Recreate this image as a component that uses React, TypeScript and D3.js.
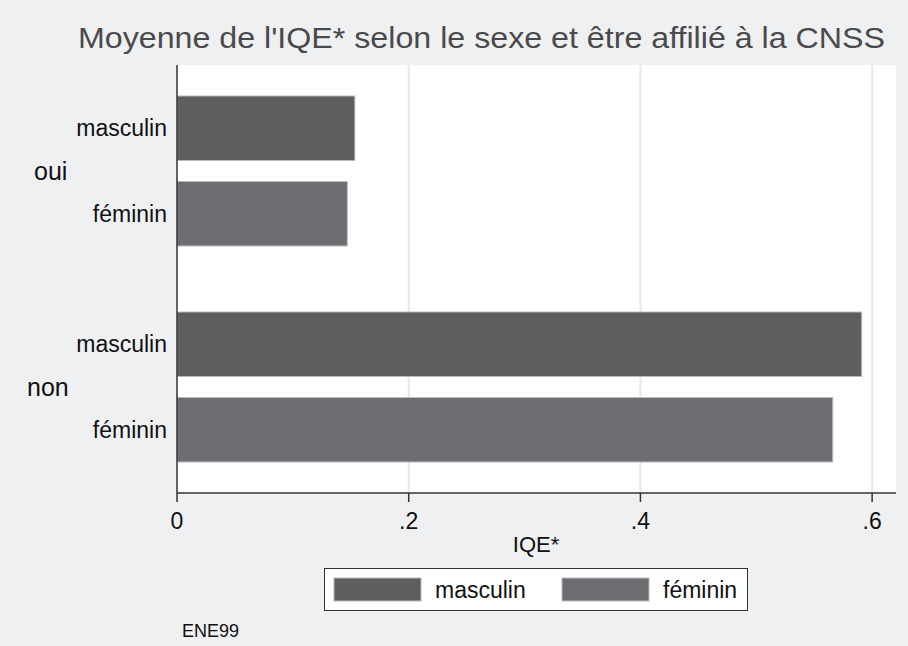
import React from "react";
import * as d3 from "d3";

const groups = ["oui", "non"];
const sexes = ["masculin", "féminin"];
const valuesOui = [0.1535, 0.147];
const valuesNon = [0.591, 0.566];
const xTicks = [0, 0.2, 0.4, 0.6];
const xTickLabels = ["0", ".2", ".4", ".6"];
const title = "Moyenne de l'IQE* selon le sexe et être affilié à la CNSS";
const xTitle = "IQE*";
const note = "ENE99";

const W = 908;
const H = 646;
const FONT = "'Liberation Sans', Arial, Helvetica, sans-serif";
const colors: Record<string, string> = { masculin: "#5e5e60", "féminin": "#6c6d71" };

export default function App() {
  const left = 177;
  const right = 896;
  const top = 65;
  const bottom = 493;
  const x = d3.scaleLinear().domain([0, 0.6206]).range([left, right]);
  const yG = d3.scaleBand().domain(groups).range([top, bottom]).paddingInner(0.3056).paddingOuter(0.1435);
  const yS = d3.scaleBand().domain(sexes).range([0, yG.bandwidth()]).paddingInner(0.2456).paddingOuter(0);
  const data = [
    ...sexes.map((s, i) => ({ g: "oui", s, v: valuesOui[i] })),
    ...sexes.map((s, i) => ({ g: "non", s, v: valuesNon[i] })),
  ];
  return (
    <svg width={W} height={H} style={{ position: "absolute", left: 0, top: 0 }}>
      <rect x={0} y={0} width={W} height={H} fill="#eff0f2" />
      <text x={78} y={48} fontFamily={FONT} fontSize={30} fill="#4a4a4c" textLength={807} lengthAdjust="spacingAndGlyphs">{title}</text>
      <rect x={left} y={top} width={right - left} height={bottom - top} fill="#ffffff" />
      {xTicks.slice(1).map((t) => (
        <line key={t} x1={x(t)} x2={x(t)} y1={top} y2={bottom} stroke="#e6e7e9" strokeWidth={2} />
      ))}
      {data.map((d) => {
        const y0 = (yG(d.g) as number) + (yS(d.s) as number);
        return (
          <rect key={d.g + d.s} x={x(0)} y={y0} width={x(d.v) - x(0)} height={yS.bandwidth()} fill={colors[d.s]} stroke="#bcbcbe" strokeWidth={1} />
        );
      })}
      <line x1={left} x2={left} y1={top} y2={bottom} stroke="#333" strokeWidth={1.5} />
      <line x1={left} x2={right} y1={bottom} y2={bottom} stroke="#333" strokeWidth={1.5} />
      {xTicks.map((t, i) => (
        <g key={t}>
          <line x1={x(t)} x2={x(t)} y1={bottom} y2={bottom + 9} stroke="#333" strokeWidth={1.5} />
          <text x={x(t)} y={529} textAnchor="middle" fontFamily={FONT} fontSize={23} fill="#111">{xTickLabels[i]}</text>
        </g>
      ))}
      <text x={536} y={552} textAnchor="middle" fontFamily={FONT} fontSize={22} fill="#111">{xTitle}</text>
      {data.map((d) => {
        const yc = (yG(d.g) as number) + (yS(d.s) as number) + yS.bandwidth() / 2;
        return (
          <text key={"l" + d.g + d.s} x={167} y={yc + 8} textAnchor="end" fontFamily={FONT} fontSize={23} fill="#111">{d.s}</text>
        );
      })}
      {groups.map((g) => (
        <text key={g} x={g === "oui" ? 34 : 27} y={(yG(g) as number) + yG.bandwidth() / 2 + 9} fontFamily={FONT} fontSize={25} fill="#111">{g}</text>
      ))}
      <rect x={324.5} y={568.5} width={423} height={42} fill="#ffffff" stroke="#333" strokeWidth={1} />
      {sexes.map((s, i) => {
        const sx = i === 0 ? 334 : 562;
        return (
          <g key={"lg" + s}>
            <rect x={sx} y={578} width={87} height={23} fill={colors[s]} stroke="#bcbcbe" strokeWidth={1} />
            <text x={sx + 101} y={598} fontFamily={FONT} fontSize={23} fill="#111">{s}</text>
          </g>
        );
      })}
      <text x={182} y={637} fontFamily={FONT} fontSize={18} fill="#111">{note}</text>
    </svg>
  );
}
